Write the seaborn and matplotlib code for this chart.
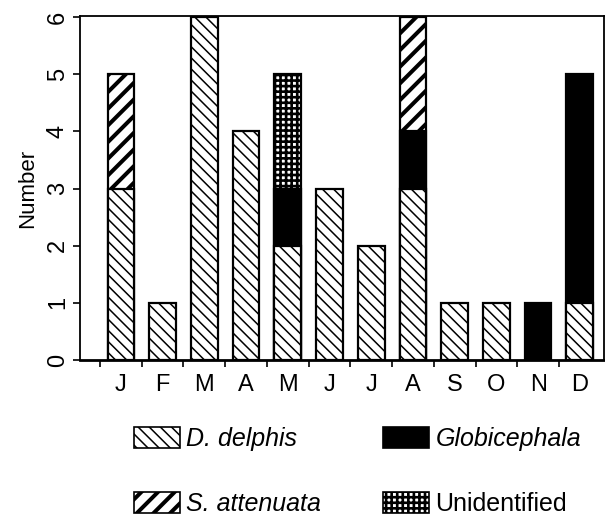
import numpy as np
import pandas as pd
import matplotlib
matplotlib.use("Agg")
import matplotlib.pyplot as plt
from matplotlib.patches import Patch
import seaborn as sns

months = ["Jan", "Feb", "Mar", "Apr", "May", "Jun", "Jul", "Aug", "Sep", "Oct", "Nov", "Dec"]
month_labels = ["J", "F", "M", "A", "M", "J", "J", "A", "S", "O", "N", "D"]
d_delphis = [3, 1, 6, 4, 2, 3, 2, 3, 1, 1, 0, 1]
globicephala = [0, 0, 0, 0, 1, 0, 0, 1, 0, 0, 1, 4]
s_attenuata = [2, 0, 0, 0, 0, 0, 0, 2, 0, 0, 0, 0]
unidentified = [0, 0, 0, 0, 2, 0, 0, 0, 0, 0, 0, 0]
species = ["D. delphis", "Globicephala", "S. attenuata", "Unidentified"]
y_ticks = [0, 1, 2, 3, 4, 5, 6]

sns.set_theme(style="ticks")
plt.rcParams["font.family"] = ["Liberation Sans", "DejaVu Sans"]
plt.rcParams["axes.edgecolor"] = "black"
plt.rcParams["xtick.color"] = "black"
plt.rcParams["ytick.color"] = "black"
plt.rcParams["text.color"] = "black"
plt.rcParams["axes.labelcolor"] = "black"

fig = plt.figure(figsize=(6.05, 5.19), dpi=100)
ax = fig.add_axes([80 / 605, 1 - 360 / 519, (604 - 80) / 605, (360 - 16) / 519])

df = pd.DataFrame({"month": months, "D": d_delphis, "G": globicephala,
                   "S": s_attenuata, "U": unidentified})
df["c1"] = df["D"]
df["c2"] = df["c1"] + df["G"]
df["c3"] = df["c2"] + df["S"]
df["c4"] = df["c3"] + df["U"]

styles = {
    "U": dict(color="white", hatch="+++", hlw=1.9),
    "S": dict(color="white", hatch="//", hlw=2.9),
    "G": dict(color="black", hatch=None, hlw=1.0),
    "D": dict(color="white", hatch="\\\\\\", hlw=1.1),
}

for key, cum in [("U", "c4"), ("S", "c3"), ("G", "c2"), ("D", "c1")]:
    sub = df[df[key] > 0]
    st = styles[key]
    with plt.rc_context({"hatch.linewidth": st["hlw"]}):
        sns.barplot(data=sub, x="month", y=cum, order=months, color=st["color"],
                    saturation=1, hatch=st["hatch"], edgecolor="black",
                    linewidth=1.6, width=0.64, errorbar=None, ax=ax)
    for p in ax.containers[-1]:
        if hasattr(p, "set_hatch_linewidth"):
            p.set_hatch_linewidth(st["hlw"])

ax.set_xlim(-0.98, 11.58)
ax.set_ylim(0, 6.02)
ax.set_yticks(y_ticks)
ax.set_yticklabels([str(v) for v in y_ticks], rotation=90, va="center")
ax.set_xticks(range(len(months)))
ax.set_xticklabels(month_labels)
ax.set_xticks(np.arange(len(months)) - 0.5, minor=True)
ax.tick_params(axis="x", which="major", length=0, pad=10, labelsize=17)
ax.tick_params(axis="x", which="minor", length=5, width=1.2, direction="out", bottom=True)
ax.tick_params(axis="y", which="major", length=5, width=1.2, direction="out", labelsize=17, pad=3, left=True)
ax.set_xlabel("")
ax.set_ylabel("Number", fontsize=16, labelpad=6)
for s in ["left", "top", "right"]:
    ax.spines[s].set_linewidth(1.3)
ax.spines["bottom"].set_linewidth(2.0)

handles = []
for lab, key in [("D. delphis", "D"), ("S. attenuata", "S"), ("Globicephala", "G"), ("Unidentified", "U")]:
    st = styles[key]
    with plt.rc_context({"hatch.linewidth": st["hlw"]}):
        handles.append(Patch(facecolor=st["color"], edgecolor="black", hatch=st["hatch"],
                             linewidth=1.2, label=lab))

leg = fig.legend(handles=handles, loc="upper left", bbox_to_anchor=(134 / 605, 1 - 427 / 519),
                 ncol=2, frameon=False, fontsize=18, handlelength=1.84, handleheight=0.88,
                 handletextpad=0.24, columnspacing=2.5, labelspacing=1.65, borderpad=0,
                 borderaxespad=0)
for t in leg.get_texts():
    if t.get_text() != "Unidentified":
        t.set_style("italic")
hl = {"D. delphis": 1.1, "S. attenuata": 2.9, "Globicephala": 1.0, "Unidentified": 1.9}
for h, t in zip(leg.legend_handles, leg.get_texts()):
    if hasattr(h, "set_hatch_linewidth"):
        h.set_hatch_linewidth(hl[t.get_text()])

fig.savefig("out.png", dpi=100)
